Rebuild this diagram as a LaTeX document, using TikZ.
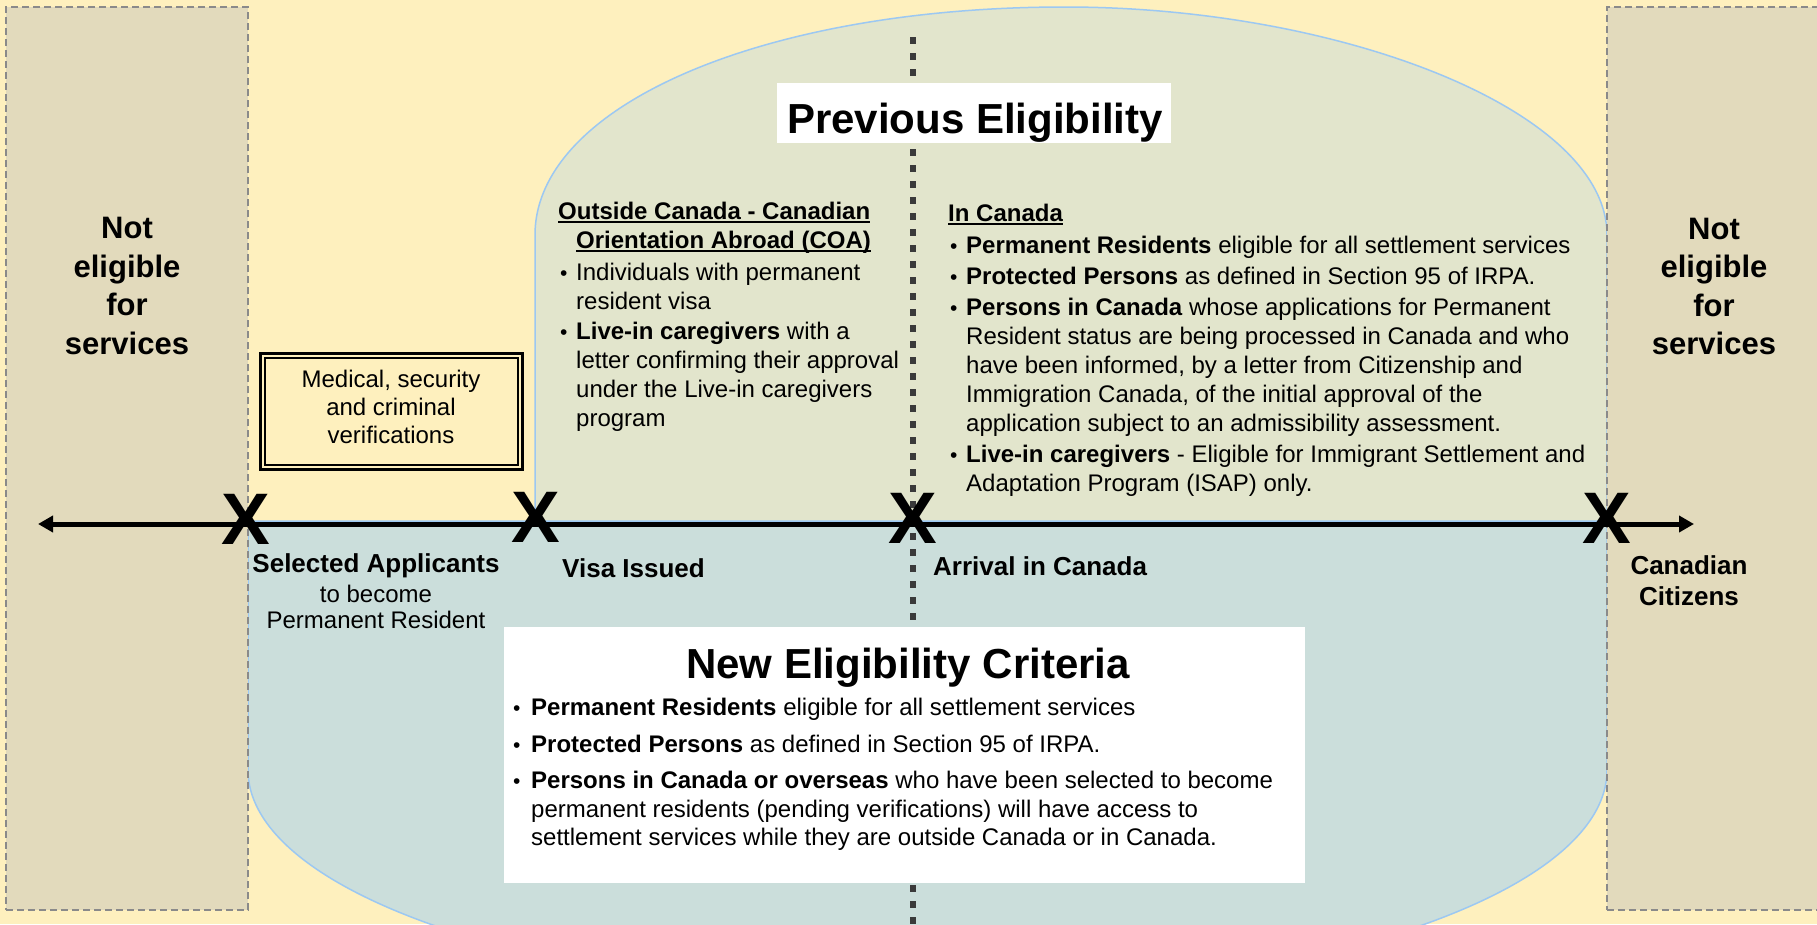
\documentclass[tikz,border=0pt]{standalone}
\usepackage{fontspec}
\setmainfont{Liberation Sans}
\usetikzlibrary{arrows.meta}
\definecolor{bgyel}{HTML}{FEF0BE}
\definecolor{tanbox}{HTML}{E2DABC}
\definecolor{prevfill}{HTML}{E2E5CC}
\definecolor{newfill}{HTML}{CBDEDB}
\definecolor{edgeblue}{HTML}{9CC8F2}
\definecolor{dotgrey}{HTML}{3A3A3A}
\definecolor{dashgrey}{HTML}{8A8A8A}
\tikzset{
  body/.style={inner sep=0pt, font=\fontsize{24}{29}\selectfont, anchor=base west},
  bul/.style={inner sep=0pt, font=\fontsize{21}{24}\selectfont, anchor=base west},
  bodyc/.style={inner sep=0pt, font=\fontsize{24}{29}\selectfont, anchor=base},
  hd/.style={inner sep=0pt, font=\fontsize{24}{29}\selectfont\bfseries, anchor=base west},
  lab/.style={inner sep=0pt, font=\fontsize{26}{31}\selectfont\bfseries, anchor=base west},
  labc/.style={inner sep=0pt, font=\fontsize{26}{31}\selectfont\bfseries, anchor=base},
  ne/.style={inner sep=0pt, font=\fontsize{31}{39}\selectfont\bfseries, anchor=base},
  ttl/.style={inner sep=0pt, font=\fontsize{42}{42}\selectfont\bfseries, anchor=base},
  xmark/.style={inner sep=0pt, font=\fontsize{73}{73}\selectfont\bfseries},
  tbox/.style={fill=tanbox, draw=dashgrey, line width=1.8pt, dash pattern=on 7pt off 4pt, inner sep=0pt},
  region/.style={draw=edgeblue, line width=1.5pt},
  whitebox/.style={fill=white, inner sep=0pt},
  uline/.style={line width=1.6pt},
}
\begin{document}
\begin{tikzpicture}[x=1pt,y=-1pt]
\path[use as bounding box] (0,0) rectangle (1817,924);
\clip (0,0) rectangle (1817,924);
\fill[bgyel] (0,0) rectangle (1817,924);

% regions
\path[region, fill=prevfill] (535,524) -- (535,235) .. controls (535,105) and (765,7) .. (1065,7)
  .. controls (1340,7) and (1607,110) .. (1607,235) -- (1607,524) -- cycle;
\path[region, fill=newfill] (248,521) -- (248,770) .. controls (248,895) and (552,996) .. (928,996)
  .. controls (1303,996) and (1607,895) .. (1607,770) -- (1607,521) -- cycle;

% side boxes
\node[tbox, minimum width=242, minimum height=903] (lbox) at (127,458.5) {};
\node[tbox, minimum width=243, minimum height=903] (rbox) at (1728.5,458.5) {};

% dotted divider
\coordinate (dtop) at (913,37);
\coordinate (dbot) at (913,930);
\draw[dotgrey, line width=6.5pt, dash pattern=on 7pt off 9pt] (dtop) -- (dbot);

% title boxes
\node[whitebox, minimum width=394, minimum height=60] (pbox) at (974,113) {};
\node[ttl] (ptitle) at (975,133) {Previous Eligibility};
\node[whitebox, minimum width=801, minimum height=256] (nbox) at (904.5,755) {};
\node[ttl] (ntitle) at (908,678) {New Eligibility Criteria};

% medical box (thick-thin double frame)
\node[draw, line width=3pt, fill=bgyel, minimum width=262, minimum height=116, inner sep=0pt] (med) at (391.5,411.5) {};
\draw[line width=1.8pt] ([shift={(6pt,-6pt)}]med.north west) rectangle ([shift={(-6pt,6pt)}]med.south east);
\node[bodyc] (m1) at (391,387) {Medical, security};
\node[bodyc] (m2) at (391,415) {and criminal};
\node[bodyc] (m3) at (391,443) {verifications};

% timeline
\coordinate (tl) at (38,524);
\coordinate (tr) at (1694,524);
\draw[line width=5pt, {Triangle[length=15pt,width=16pt]}-{Triangle[length=15pt,width=16pt]}] (tl) -- (tr);

\node[xmark] (x1) at (246,519) {X};
\node[xmark] (x2) at (536,517) {X};
\node[xmark] (x3) at (913,518) {X};
\node[xmark] (x4) at (1607,518) {X};

% not eligible
\node[ne] (nl1) at (127,238) {Not};
\node[ne] (nl2) at (127,277) {eligible};
\node[ne] (nl3) at (127,315) {for};
\node[ne] (nl4) at (127,354) {services};
\node[ne] (nr1) at (1714,239) {Not};
\node[ne] (nr2) at (1714,277) {eligible};
\node[ne] (nr3) at (1714,316) {for};
\node[ne] (nr4) at (1714,354) {services};

% timeline labels
\node[labc] (sa1) at (376,572) {Selected Applicants};
\node[bodyc] (sa2) at (376,602) {to become};
\node[bodyc] (sa3) at (376,628) {Permanent Resident};
\node[lab] (vi) at (562,577) {Visa Issued};
\node[lab] (ar) at (933,575) {Arrival in Canada};
\node[labc] (cc1) at (1689,574) {Canadian};
\node[labc] (cc2) at (1689,605) {Citizens};

% outside Canada column
\node[hd] (oh1) at (558,219) {Outside Canada - Canadian};
\node[hd] (oh2) at (576,248) {Orientation Abroad (COA)};
\draw[uline] ([yshift=-3pt]oh1.base west) -- ([yshift=-3pt]oh1.base east);
\draw[uline] ([yshift=-3pt]oh2.base west) -- ([yshift=-3pt]oh2.base east);
\node[bul] (ob1) at (560,280) {•};
\node[body] (o1) at (576,280) {Individuals with permanent};
\node[body] (o2) at (576,309) {resident visa};
\node[bul] (ob2) at (560,339) {•};
\node[body] (o3) at (576,339) {\textbf{Live-in caregivers} with a};
\node[body] (o4) at (576,368) {letter confirming their approval};
\node[body] (o5) at (576,397) {under the Live-in caregivers};
\node[body] (o6) at (576,426) {program};

% in Canada column
\node[hd] (ih) at (948,221) {In Canada};
\draw[uline] ([yshift=-3pt]ih.base west) -- ([yshift=-3pt]ih.base east);
\node[bul] (ib1) at (950,253) {•};
\node[body] (i1) at (966,253) {\textbf{Permanent Residents} eligible for all settlement services};
\node[bul] (ib2) at (950,284) {•};
\node[body] (i2) at (966,284) {\textbf{Protected Persons} as defined in Section 95 of IRPA.};
\node[bul] (ib3) at (950,315) {•};
\node[body] (i3) at (966,315) {\textbf{Persons in Canada} whose applications for Permanent};
\node[body] (i4) at (966,344) {Resident status are being processed in Canada and who};
\node[body] (i5) at (966,373) {have been informed, by a letter from Citizenship and};
\node[body] (i6) at (966,402) {Immigration Canada, of the initial approval of the};
\node[body] (i7) at (966,431) {application subject to an admissibility assessment.};
\node[bul] (ib4) at (950,462) {•};
\node[body] (i8) at (966,462) {\textbf{Live-in caregivers} - Eligible for Immigrant Settlement and};
\node[body] (i9) at (966,491) {Adaptation Program (ISAP) only.};

% new eligibility body
\node[bul] (nb1) at (513,715) {•};
\node[body] (n1) at (531,715) {\textbf{Permanent Residents} eligible for all settlement services};
\node[bul] (nb2) at (513,752) {•};
\node[body] (n2) at (531,752) {\textbf{Protected Persons} as defined in Section 95 of IRPA.};
\node[bul] (nb3) at (513,788) {•};
\node[body] (n3) at (531,788) {\textbf{Persons in Canada or overseas} who have been selected to become};
\node[body] (n4) at (531,817) {permanent residents (pending verifications) will have access to};
\node[body] (n5) at (531,845) {settlement services while they are outside Canada or in Canada.};
\end{tikzpicture}
\end{document}
